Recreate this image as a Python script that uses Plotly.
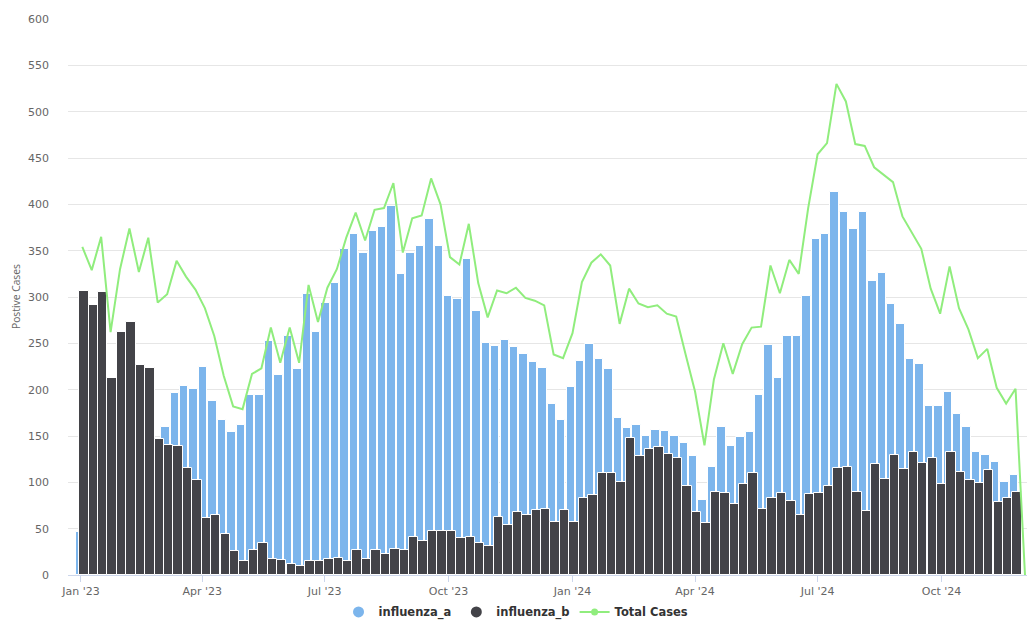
import plotly.graph_objects as go
import pandas as pd

# ---- data (weekly, week starting Monday) ----
week_start = "2023-01-02"
n_weeks = 101
weeks = pd.date_range(week_start, periods=n_weeks, freq="7D")

influenza_a = [46, 37, 57, 48, 66, 98, 98, 139, 145, 160,
               196, 204, 201, 225, 188, 167, 154, 162, 194, 194,
               253, 216, 258, 222, 303, 262, 294, 315, 352, 368,
               347, 371, 376, 398, 325, 347, 355, 384, 355, 301,
               298, 341, 285, 250, 247, 254, 246, 238, 230, 223,
               185, 167, 203, 231, 249, 233, 222, 169, 159, 162,
               150, 157, 155, 150, 142, 128, 81, 117, 160, 139,
               149, 154, 194, 248, 213, 258, 258, 301, 363, 368,
               413, 392, 373, 392, 317, 326, 292, 271, 233, 228,
               182, 182, 197, 174, 160, 133, 129, 122, 100, 108,
               0]

influenza_b = [307, 291, 305, 213, 262, 273, 227, 223, 147, 140,
               139, 115, 103, 61, 65, 44, 26, 15, 27, 34,
               17, 16, 12, 10, 15, 15, 17, 18, 15, 27,
               17, 27, 23, 28, 27, 41, 37, 48, 48, 47,
               40, 41, 35, 31, 63, 54, 68, 65, 70, 71,
               57, 70, 57, 83, 86, 110, 110, 100, 148, 128,
               136, 138, 131, 126, 96, 68, 56, 90, 88, 77,
               98, 110, 71, 83, 89, 80, 65, 87, 89, 96,
               115, 117, 90, 69, 120, 104, 129, 114, 133, 121,
               126, 98, 133, 111, 102, 99, 113, 79, 83, 90,
               0]

total_cases = [354, 329, 365, 262, 330, 374, 327, 364, 294, 303,
               339, 322, 308, 288, 258, 215, 182, 179, 217, 223,
               267, 229, 267, 229, 313, 273, 310, 330, 364, 391,
               361, 394, 396, 423, 348, 385, 388, 428, 400, 343,
               335, 379, 315, 278, 307, 304, 310, 299, 296, 291,
               238, 234, 261, 316, 337, 346, 334, 271, 309, 293,
               289, 291, 282, 279, 238, 198, 140, 211, 250, 217,
               249, 267, 268, 334, 304, 340, 325, 396, 454, 466,
               530, 511, 465, 463, 440, 432, 424, 387, 370, 352,
               309, 282, 333, 288, 265, 234, 244, 202, 185, 201,
               0]

tick_dates = ["2023-01-01", "2023-04-01", "2023-07-01", "2023-10-01",
              "2024-01-01", "2024-04-01", "2024-07-01", "2024-10-01"]
tick_labels = ["Jan '23", "Apr '23", "Jul '23", "Oct '23",
               "Jan '24", "Apr '24", "Jul '24", "Oct '24"]

y_ticks = [0, 50, 100, 150, 200, 250, 300, 350, 400, 450, 500, 550, 600]

# ---- styling ----
COLOR_A = "#7cb5ec"
COLOR_B = "#434348"
COLOR_T = "#90ed7d"
DAY_MS = 86400000
PX = 0.74255 * DAY_MS  # one pixel of x-axis in ms

fig = go.Figure()

fig.add_trace(go.Bar(
    x=weeks, y=influenza_a, name="influenza_a",
    marker=dict(color=COLOR_A, line=dict(color="#ffffff", width=1)),
    width=8.4 * PX, offset=-6.0 * PX, showlegend=False,
))
fig.add_trace(go.Bar(
    x=weeks, y=influenza_b, name="influenza_b",
    marker=dict(color=COLOR_B, line=dict(color="#ffffff", width=1)),
    width=9.4 * PX, offset=-3.2 * PX, showlegend=False,
))
fig.add_trace(go.Scatter(
    x=weeks, y=total_cases, name="Total Cases", mode="lines",
    line=dict(color=COLOR_T, width=2), showlegend=False,
))

# legend entries (Highcharts-like symbols)
fig.add_trace(go.Scatter(x=[None], y=[None], name="influenza_a", mode="markers",
                         marker=dict(symbol="circle", size=11, color=COLOR_A)))
fig.add_trace(go.Scatter(x=[None], y=[None], name="influenza_b", mode="markers",
                         marker=dict(symbol="circle", size=11, color=COLOR_B)))
fig.add_trace(go.Scatter(x=[None], y=[None], name="Total Cases", mode="lines+markers",
                         line=dict(color=COLOR_T, width=2),
                         marker=dict(symbol="circle", size=7, color=COLOR_T)))

fig.update_layout(
    width=1027, height=621,
    margin=dict(l=68, r=0, t=19, b=46, autoexpand=False),
    paper_bgcolor="#ffffff", plot_bgcolor="#ffffff",
    barmode="overlay",
    bargap=0,
    font=dict(family="DejaVu Sans", color="#666666", size=11),
    legend=dict(
        orientation="h", x=0.2821, xanchor="left", y=-0.0665, yanchor="middle",
        font=dict(family="DejaVu Sans", size=11.5, color="#333333", weight="bold"),
        bgcolor="rgba(0,0,0,0)", borderwidth=0,
    ),
    xaxis=dict(
        type="date", automargin=False,
        range=["2022-12-22 09:00", "2024-12-03 12:00"],
        tickvals=tick_dates, ticktext=tick_labels,
        ticks="outside", ticklen=6, tickcolor="#ccd6eb", tickwidth=1,
        showline=True, linecolor="#ccd6eb", linewidth=1,
        showgrid=False, zeroline=False,
        tickfont=dict(family="DejaVu Sans", size=11, color="#666666"),
    ),
    yaxis=dict(
        automargin=False,
        range=[0, 600], tickvals=y_ticks,
        showgrid=True, gridcolor="#e6e6e6", gridwidth=1,
        zeroline=False, showline=False, ticks="",
        ticklabelstandoff=18,
        tickfont=dict(family="DejaVu Sans", size=11, color="#666666"),
    ),
    annotations=[dict(
        text="Postive Cases", textangle=-90,
        xref="paper", yref="paper", x=-0.0542, y=0.5,
        xanchor="center", yanchor="middle", showarrow=False,
        font=dict(family="Open Sans", size=10.3, color="#666666"),
    )],
)

fig.write_html(
    "out.html",
    config={"displayModeBar": False},
    post_script="document.body.style.margin='0px';document.body.style.overflow='hidden';",
)
